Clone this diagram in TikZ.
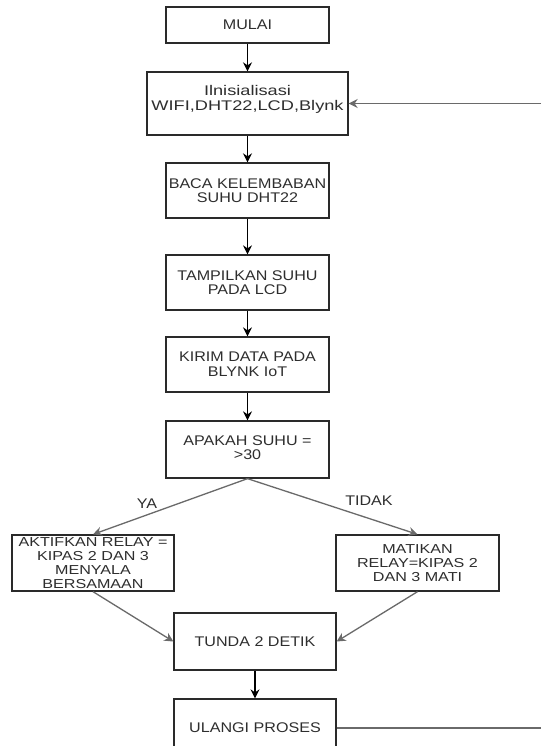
\documentclass[tikz,border=0pt]{standalone}
\usepackage{fontspec}
\setmainfont{Liberation Sans}
\newfontfamily\fA[FakeStretch=1.15]{Liberation Sans}
\newfontfamily\fB[FakeStretch=1.3]{Liberation Sans}
\newfontfamily\fC[FakeStretch=1.24]{Liberation Sans}
\usetikzlibrary{arrows.meta}
\definecolor{txt}{HTML}{2E2E2E}
\definecolor{bord}{HTML}{2A2A2A}
\definecolor{grayline}{HTML}{6A6A6A}
\tikzset{
  box/.style={draw=bord, line width=1.3pt, fill=white, text=txt, align=center,
    minimum width=163pt, minimum height=55pt, inner sep=0pt,
    font=\fontsize{14}{14.6}\selectfont\fA},
  smallbox/.style={box, minimum width=162pt, minimum height=56pt,
    font=\fontsize{13}{13.9}\selectfont\fC},
  arr/.style={draw=black, line width=1.3pt, -{Stealth[length=9pt,width=9pt,inset=3pt]}},
  garr/.style={draw=grayline, line width=1.3pt, -{Stealth[length=9pt,width=9pt,inset=3pt]}},
  gline/.style={draw=grayline, line width=1.3pt},
  lbl/.style={text=txt, font=\fontsize{14}{14.6}\selectfont\fA, inner sep=0pt}
}
\begin{document}
\begin{tikzpicture}[x=1pt,y=-1pt]
\clip (0,0) rectangle (541,746);
\fill[white] (0,0) rectangle (541,746);
\node[box, minimum height=36pt] (mulai) at (247.5,25) {MULAI};
\node[box, minimum width=201pt, minimum height=63pt] (init) at (247.5,103.5) {};
\node[text=txt, align=center, inner sep=0pt, font=\fontsize{14}{15.5}\selectfont\fB] (initt) at (247.5,99.5) {Ilnisialisasi\\WIFI,DHT22,LCD,Blynk};
\node[box] (baca) at (247.5,190.5) {BACA KELEMBABAN\\SUHU DHT22};
\node[box] (tampil) at (247.5,282.5) {TAMPILKAN SUHU\\PADA LCD};
\node[box] (kirim) at (247.5,364.5) {KIRIM DATA PADA\\BLYNK IoT};
\node[box, minimum height=57pt] (apakah) at (247.5,449.5) {};
\node[text=txt, align=center, inner sep=0pt, font=\fontsize{14}{14.6}\selectfont\fA] (apakaht) at (247.5,447.5) {APAKAH SUHU =\\>30};
\node[smallbox] (aktif) at (93,563) {AKTIFKAN RELAY =\\KIPAS 2 DAN 3\\MENYALA\\BERSAMAAN};
\node[smallbox, minimum width=163pt] (mati) at (417.5,563) {MATIKAN\\RELAY=KIPAS 2\\DAN 3 MATI};
\node[box, minimum width=162pt, minimum height=57pt] (tunda) at (255,641.5) {TUNDA 2 DETIK};
\node[box, minimum width=162pt, minimum height=57pt] (ulangi) at (255,727.5) {ULANGI PROSES};
\coordinate (loopA) at (541,103.5);
\coordinate (loopB) at (541,728);

\draw[arr] (mulai) -- (init);
\draw[arr] (init) -- (baca);
\draw[arr] (baca) -- (tampil);
\draw[arr] (tampil) -- (kirim);
\draw[arr] (kirim) -- (apakah);
\draw[garr] (apakah.south) -- (aktif.north);
\draw[garr] (apakah.south) -- (mati.north);
\node[lbl] (ya) at (147,503.5) {YA};
\node[lbl] (tidak) at (369,501) {TIDAK};
\draw[garr] (aktif.south) -- (tunda.west);
\draw[garr] (mati.south) -- (tunda.east);
\draw[arr] (tunda) -- (ulangi);
\draw[gline] (ulangi.east |- loopB) -- (loopB);
\draw[garr] (loopA) -- (init.east);
\end{tikzpicture}
\end{document}
